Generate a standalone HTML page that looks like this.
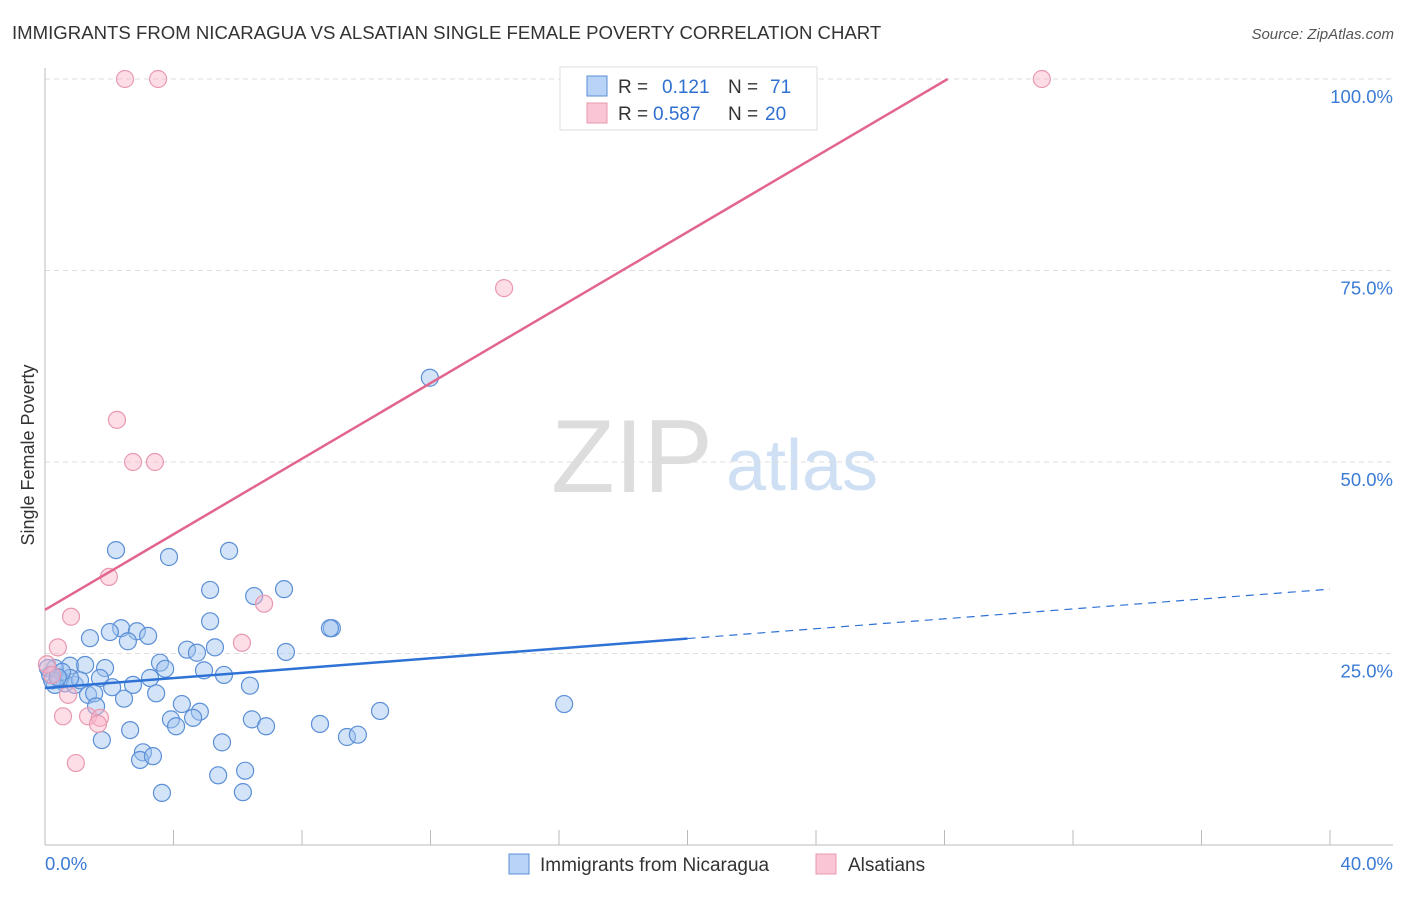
<!DOCTYPE html>
<html><head><meta charset="utf-8"><style>
body{margin:0;background:#fff;font-family:"Liberation Sans",sans-serif}
svg text{font-family:"Liberation Sans",sans-serif}
</style></head><body>
<svg width="1406" height="892" viewBox="0 0 1406 892" xmlns="http://www.w3.org/2000/svg">
<text x="12" y="39" font-size="18.6" fill="#333">IMMIGRANTS FROM NICARAGUA VS ALSATIAN SINGLE FEMALE POVERTY CORRELATION CHART</text>
<text x="1394" y="39" font-size="15" fill="#555" font-style="italic" text-anchor="end">Source: ZipAtlas.com</text>
<g>
<text x="632" y="492" font-size="104" fill="#ddd" font-family="Liberation Serif" text-anchor="middle">ZIP</text>
<text x="802" y="490" font-size="72" fill="#cfe0f4" text-anchor="middle">atlas</text>
</g>
<g id="grid"></g>
<g id="axes"></g>
<text transform="translate(34,455) rotate(-90)" font-size="18" fill="#333" text-anchor="middle">Single Female Poverty</text>
<g id="marks"></g>
<g>
<rect x="560" y="67" width="257" height="63" fill="#fff" stroke="#ddd"/>
<rect x="587" y="76" width="20" height="20" fill="#b8d3f5" stroke="#5b8fd6"/>
<rect x="587" y="103" width="20" height="20" fill="#fac6d5" stroke="#e899b0"/>
<text x="618" y="93" font-size="19" fill="#333">R =</text><text x="662" y="93" font-size="19" fill="#2f6fd0">0.121</text>
<text x="728" y="93" font-size="19" fill="#333">N =</text><text x="770" y="93" font-size="19" fill="#2f6fd0">71</text>
<text x="618" y="120" font-size="19" fill="#333">R =</text><text x="653" y="120" font-size="19" fill="#2f6fd0">0.587</text>
<text x="728" y="120" font-size="19" fill="#333">N =</text><text x="765" y="120" font-size="19" fill="#2f6fd0">20</text>
</g>
<g>
<rect x="509" y="854" width="20" height="20" fill="#b8d3f5" stroke="#5b8fd6"/>
<text x="540" y="871" font-size="19" fill="#333">Immigrants from Nicaragua</text>
<rect x="816" y="854" width="20" height="20" fill="#fac6d5" stroke="#e899b0"/>
<text x="848" y="871" font-size="19" fill="#333">Alsatians</text>
</g>
</svg>
<script>
const blueX=[2.21,3.86,5.73,5.14,6.51,7.44,5.14,8.93,8.87,1.40,2.37,2.86,3.21,2.02,2.58,4.42,4.73,5.29,7.50,3.58,3.74,4.95,5.57,1.87,0.78,1.25,0.31,1.71,3.27,2.74,2.09,6.38,3.46,1.34,1.53,1.59,2.46,4.26,4.82,3.92,4.61,4.08,6.44,6.88,8.56,10.43,2.65,1.77,5.51,3.05,2.96,3.36,5.39,6.23,3.64,6.16,9.40,9.74,16.16,11.98,0.47,0.62,0.93,1.09,0.16,0.31,0.78,0.53,0.09,0.22,0.40];
const blueY=[38.5,37.6,38.4,33.3,32.5,33.4,29.2,28.3,28.3,27.0,28.3,27.9,27.3,27.8,26.6,25.5,25.1,25.8,25.2,23.8,23.0,22.8,22.2,23.1,23.4,23.5,23.1,21.8,21.8,20.9,20.6,20.8,19.8,19.6,19.8,18.1,19.1,18.4,17.4,16.4,16.6,15.5,16.4,15.5,15.8,17.5,15.0,13.7,13.4,12.1,11.1,11.6,9.1,9.7,6.8,6.9,14.1,14.4,18.4,61.0,21.5,21.1,20.9,21.5,22.2,20.9,21.8,22.6,23.1,21.5,21.9];
const pinkX=[2.49,3.52,31.03,14.29,2.24,2.74,3.42,1.99,6.82,0.81,6.13,0.40,0.06,0.22,0.72,0.56,1.34,1.71,1.65,0.96];
const pinkY=[100,100,100,72.7,55.5,50.0,50.0,35.0,31.5,29.8,26.4,25.8,23.6,22.2,19.6,16.8,16.8,16.6,15.8,10.7];
const blueTrend=[20.5,33.4];
const blueSolidEnd=20;
const pinkTrend=[30.7,100]; const pinkEndX=28.1;
const yTicks=[25,50,75,100];
const yTickLabels=["25.0%","50.0%","75.0%","100.0%"];
const xTicks=[0,4,8,12,16,20,24,28,32,36,40];
const xLabels=["0.0%","40.0%"];
const NS="http://www.w3.org/2000/svg";
const sx=v=>45+v*32.125, sy=v=>845-v*7.66;
function mk(p,t,a){const e=document.createElementNS(NS,t);for(const k in a)e.setAttribute(k,a[k]);p.appendChild(e);return e;}
const grid=document.getElementById('grid'),axes=document.getElementById('axes'),marks=document.getElementById('marks');
yTicks.forEach((v,i)=>{
 const l=mk(grid,'line',{x1:45,x2:1393,y1:sy(v),y2:sy(v),stroke:'#ddd','stroke-dasharray':'5,4'});
 
 
 const t=mk(axes,'text',{x:1393,y:sy(v)+24,'font-size':18.5,fill:'#3a7bd5','text-anchor':'end'});t.textContent=yTickLabels[i];
 
 
});
const ax=mk(axes,'line',{x1:45,x2:1393,y1:845,y2:845,stroke:'#bbb'});


const ay=mk(axes,'line',{x1:45,x2:45,y1:68,y2:845,stroke:'#bbb'});


xTicks.forEach(v=>{const t=mk(axes,'line',{x1:sx(v),x2:sx(v),y1:830,y2:845,stroke:'#bbb'});
 
 });
const xl0=mk(axes,'text',{x:45,y:870,'font-size':18.5,fill:'#3a7bd5'});xl0.textContent=xLabels[0];


const xl1=mk(axes,'text',{x:1393,y:870,'font-size':18.5,fill:'#3a7bd5','text-anchor':'end'});xl1.textContent=xLabels[1];


blueX.forEach((x,i)=>{const c=mk(marks,'circle',{cx:sx(x),cy:sy(blueY[i]),r:8.5,fill:'rgba(160,196,240,0.45)',stroke:'#5b8fd6','stroke-width':1.2});
 
 });
pinkX.forEach((x,i)=>{const c=mk(marks,'circle',{cx:sx(x),cy:sy(pinkY[i]),r:8.5,fill:'rgba(250,180,200,0.45)',stroke:'#e899b0','stroke-width':1.2});
 
 });
const bAt=x=>blueTrend[0]+(blueTrend[1]-blueTrend[0])*x/40;
const b1=mk(marks,'line',{x1:sx(0),y1:sy(bAt(0)),x2:sx(blueSolidEnd),y2:sy(bAt(blueSolidEnd)),stroke:'#2f72d6','stroke-width':2.5});


const b2=mk(marks,'line',{x1:sx(blueSolidEnd),y1:sy(bAt(blueSolidEnd)),x2:sx(40),y2:sy(bAt(40)),stroke:'#2f72d6','stroke-width':1.2,'stroke-dasharray':'8,6'});


const p1=mk(marks,'line',{x1:sx(0),y1:sy(pinkTrend[0]),x2:sx(pinkEndX),y2:sy(pinkTrend[1]),stroke:'#e2658e','stroke-width':2.5});


</script>
</body></html>
